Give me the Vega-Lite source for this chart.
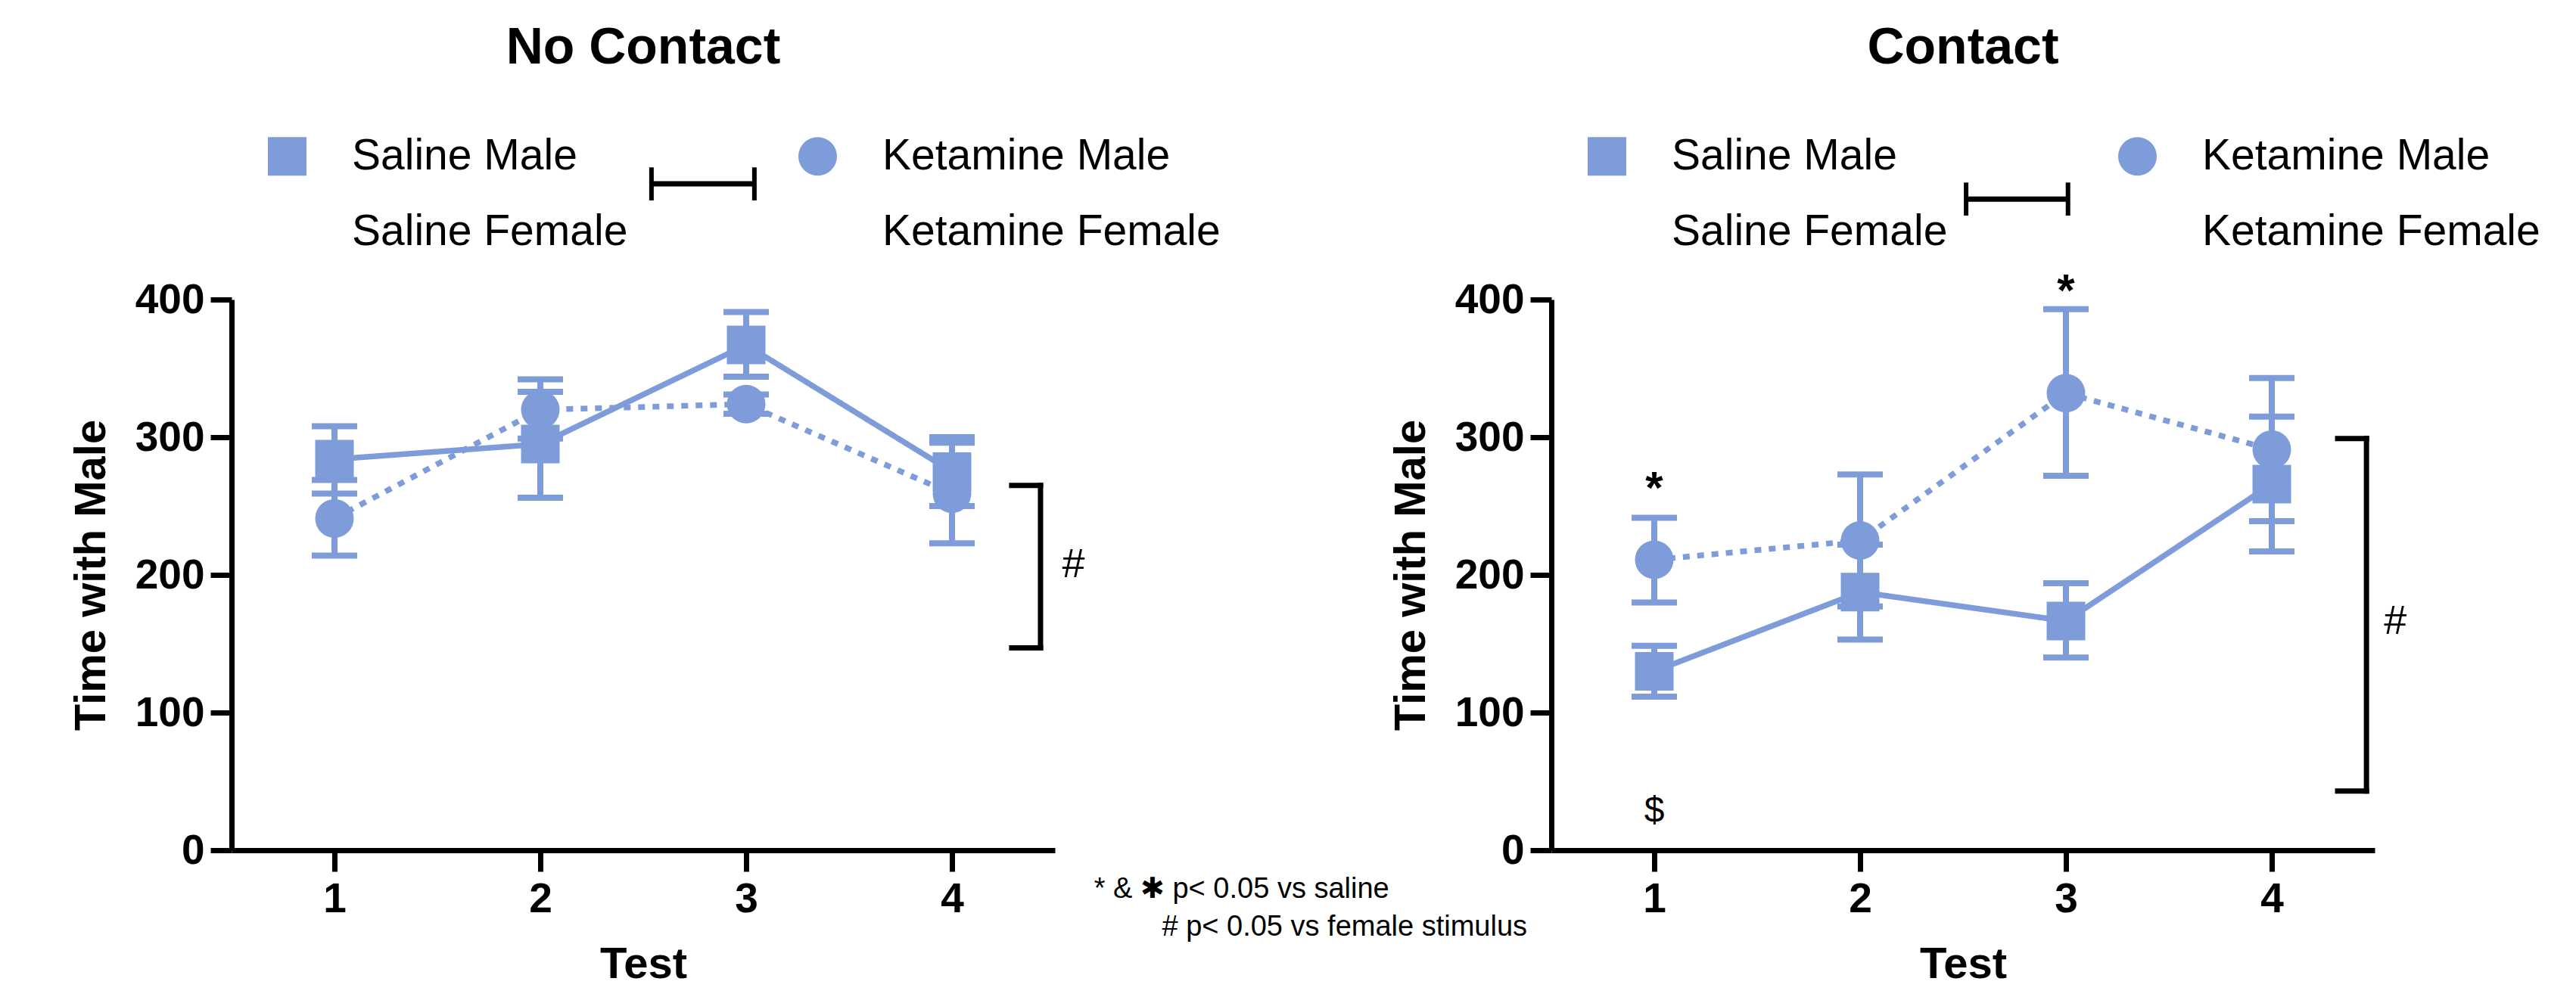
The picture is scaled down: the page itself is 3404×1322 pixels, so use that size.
{
  "$schema": "https://vega.github.io/schema/vega-lite/v6.json",
  "background": "white",
  "padding": {"left": 92, "top": 30, "right": 5, "bottom": 5},
  "config": {
    "view": {"stroke": null},
    "font": "Liberation Sans",
    "axis": {"domainColor": "black", "domainWidth": 7, "tickColor": "black", "tickWidth": 7, "tickSize": 28, "labelFont": "Liberation Sans", "labelFontSize": 55, "labelFontWeight": "bold", "labelColor": "black", "titleFont": "Liberation Sans", "titleFontSize": 58, "titleFontWeight": "bold", "titleColor": "black", "grid": false, "labelPadding": 8},
    "axisY": {"titlePadding": 28},
    "axisX": {"titlePadding": 30, "labelPadding": 10},
    "title": {"font": "Liberation Sans", "fontSize": 68, "fontWeight": "bold", "color": "black", "anchor": "middle", "frame": "group", "offset": 80}
  },
  "datasets": {
    "main": [
      {"panel": "No Contact", "group": "Saline Male", "test": 1, "mean": 284, "lo": 259, "hi": 308},
      {"panel": "No Contact", "group": "Saline Male", "test": 2, "mean": 295, "lo": 256, "hi": 333},
      {"panel": "No Contact", "group": "Saline Male", "test": 3, "mean": 367, "lo": 344, "hi": 391},
      {"panel": "No Contact", "group": "Saline Male", "test": 4, "mean": 275, "lo": 250, "hi": 300},
      {"panel": "No Contact", "group": "Ketamine Male", "test": 1, "mean": 241, "lo": 214, "hi": 269},
      {"panel": "No Contact", "group": "Ketamine Male", "test": 2, "mean": 320, "lo": 299, "hi": 342},
      {"panel": "No Contact", "group": "Ketamine Male", "test": 3, "mean": 324, "lo": 317, "hi": 331},
      {"panel": "No Contact", "group": "Ketamine Male", "test": 4, "mean": 259, "lo": 223, "hi": 296},
      {"panel": "Contact", "group": "Saline Male", "test": 1, "mean": 130, "lo": 111.5, "hi": 148.5},
      {"panel": "Contact", "group": "Saline Male", "test": 2, "mean": 187.5, "lo": 153, "hi": 222},
      {"panel": "Contact", "group": "Saline Male", "test": 3, "mean": 166.5, "lo": 140, "hi": 194},
      {"panel": "Contact", "group": "Saline Male", "test": 4, "mean": 266, "lo": 217, "hi": 315},
      {"panel": "Contact", "group": "Ketamine Male", "test": 1, "mean": 211, "lo": 180, "hi": 241.5},
      {"panel": "Contact", "group": "Ketamine Male", "test": 2, "mean": 225, "lo": 177, "hi": 273},
      {"panel": "Contact", "group": "Ketamine Male", "test": 3, "mean": 332, "lo": 272, "hi": 393},
      {"panel": "Contact", "group": "Ketamine Male", "test": 4, "mean": 291, "lo": 239, "hi": 343}
    ],
    "marks": [
      {"panel": "Contact", "test": 1, "value": 270, "label": "*"},
      {"panel": "Contact", "test": 3, "value": 413, "label": "*"}
    ],
    "dollar": [
      {"panel": "Contact", "test": 1, "value": 28, "label": "$"}
    ]
  },
  "spacing": 656,
  "bounds": "flush",
  "resolve": {"scale": {"shape": "independent", "strokeDash": "independent"}, "legend": {"shape": "independent"}},
  "hconcat": [
    {
      "width": 1088,
      "height": 728,
      "title": {"text": "No Contact"},
      "layer": [
        {
          "data": {"name": "main"},
          "transform": [{"filter": "datum.panel === 'No Contact'"}],
          "mark": {"type": "errorbar", "orient": "vertical", "ticks": {"opacity": 1}, "size": 60, "thickness": 8, "color": "#7E9CDA", "opacity": 1},
          "encoding": {
            "x": {"field": "test", "type": "quantitative", "title": "Test", "scale": {"domain": [0.5, 4.5], "nice": false, "zero": false}, "axis": {"values": [1, 2, 3, 4], "format": "d", "title": "Test"}},
            "y": {"field": "lo", "type": "quantitative", "title": "Time with Male", "scale": {"domain": [0, 400], "nice": false}, "axis": {"values": [0, 100, 200, 300, 400], "title": "Time with Male"}},
            "y2": {"field": "hi"}
          }
        },
        {
          "data": {"name": "main"},
          "transform": [{"filter": "datum.panel === 'No Contact'"}],
          "mark": {"type": "line", "strokeWidth": 7.5, "color": "#7E9CDA", "opacity": 1},
          "encoding": {
            "x": {"field": "test", "type": "quantitative", "title": "Test"},
            "y": {"field": "mean", "type": "quantitative", "title": "Time with Male"},
            "strokeDash": {"field": "group", "type": "nominal", "legend": null, "scale": {"domain": ["Saline Male", "Ketamine Male"], "range": [[1, 0], [9, 10]]}}
          }
        },
        {
          "data": {"name": "main"},
          "transform": [{"filter": "datum.panel === 'No Contact'"}],
          "mark": {"type": "point", "filled": true, "size": 2600, "color": "#7E9CDA", "opacity": 1, "strokeWidth": 0},
          "encoding": {
            "x": {"field": "test", "type": "quantitative", "title": "Test"},
            "y": {"field": "mean", "type": "quantitative", "title": "Time with Male"},
            "shape": {"field": "group", "type": "nominal",
              "scale": {"domain": ["Saline Male", "Saline Female", "Ketamine Male", "Ketamine Female"], "range": ["square", "M0,0", "circle", "M0,0"]},
              "legend": {"orient": "none", "legendX": 45, "legendY": -218, "columns": 2, "columnPadding": 222, "rowPadding": 42, "padding": 0, "title": null,
                "symbolSize": 2600, "symbolFillColor": "#7E9CDA", "symbolStrokeWidth": 0, "symbolOpacity": 1,
                "labelFont": "Liberation Sans", "labelFontSize": 57, "labelColor": "black", "labelLimit": 1000, "labelOffset": 57,
                "encode": {"symbols": {"shape": {"value": {"expr": "datum.value === 'Saline Male' ? 'M-1,-1H1V1H-1Z M-1.8,-0.16H-1V0.16H-1.8Z M1,-0.16H1.8V0.16H1Z' : (datum.value === 'Ketamine Male' ? 'M1,0A1,1,0,1,1,-1,0A1,1,0,1,1,1,0Z M-1.78,-0.17H-1.45V0.17H-1.78Z' : 'M0,0')"}}}}
              }
            }
          }
        },
        {
          "data": {"values": [{}]},
          "mark": {"type": "rule", "color": "black", "strokeWidth": 7, "strokeCap": "square"},
          "encoding": {"x": {"datum": 4.43}, "y": {"datum": 147}, "y2": {"datum": 265}}
        },
        {
          "data": {"values": [{}]},
          "mark": {"type": "rule", "color": "black", "strokeWidth": 7, "strokeCap": "square"},
          "encoding": {"x": {"datum": 4.29}, "x2": {"datum": 4.43}, "y": {"datum": 147}}
        },
        {
          "data": {"values": [{}]},
          "mark": {"type": "rule", "color": "black", "strokeWidth": 7, "strokeCap": "square"},
          "encoding": {"x": {"datum": 4.29}, "x2": {"datum": 4.43}, "y": {"datum": 265}}
        },
        {
          "data": {"values": [{}]},
          "mark": {"type": "text", "text": "#", "font": "Liberation Sans", "fontSize": 54, "align": "center", "baseline": "middle", "color": "black"},
          "encoding": {"x": {"datum": 4.59}, "y": {"datum": 207}}
        },
        {
          "data": {"values": [{}]},
          "mark": {"type": "rule", "color": "black", "strokeWidth": 7},
          "encoding": {"x": {"datum": 2.54}, "x2": {"datum": 3.04}, "y": {"datum": 484}}
        },
        {
          "data": {"values": [{}]},
          "mark": {"type": "rule", "color": "black", "strokeWidth": 6},
          "encoding": {"x": {"datum": 2.54}, "y": {"datum": 472}, "y2": {"datum": 496}}
        },
        {
          "data": {"values": [{}]},
          "mark": {"type": "rule", "color": "black", "strokeWidth": 6},
          "encoding": {"x": {"datum": 3.04}, "y": {"datum": 472}, "y2": {"datum": 496}}
        },
        {
          "data": {"values": [{}]},
          "mark": {"type": "text", "text": "* & ✱ p< 0.05 vs saline", "font": "Liberation Sans", "fontSize": 38, "align": "left", "baseline": "middle", "color": "black"},
          "encoding": {"x": {"datum": 4.69}, "y": {"datum": -28.5}}
        },
        {
          "data": {"values": [{}]},
          "mark": {"type": "text", "text": "# p< 0.05 vs female stimulus", "font": "Liberation Sans", "fontSize": 38, "align": "left", "baseline": "middle", "color": "black"},
          "encoding": {"x": {"datum": 5.02}, "y": {"datum": -56}}
        }
      ]
    },
    {
      "width": 1088,
      "height": 728,
      "title": {"text": "Contact"},
      "layer": [
        {
          "data": {"name": "main"},
          "transform": [{"filter": "datum.panel === 'Contact'"}],
          "mark": {"type": "errorbar", "orient": "vertical", "ticks": {"opacity": 1}, "size": 60, "thickness": 8, "color": "#7E9CDA", "opacity": 1},
          "encoding": {
            "x": {"field": "test", "type": "quantitative", "title": "Test", "scale": {"domain": [0.5, 4.5], "nice": false, "zero": false}, "axis": {"values": [1, 2, 3, 4], "format": "d", "title": "Test"}},
            "y": {"field": "lo", "type": "quantitative", "title": "Time with Male", "scale": {"domain": [0, 400], "nice": false}, "axis": {"values": [0, 100, 200, 300, 400], "title": "Time with Male"}},
            "y2": {"field": "hi"}
          }
        },
        {
          "data": {"name": "main"},
          "transform": [{"filter": "datum.panel === 'Contact'"}],
          "mark": {"type": "line", "strokeWidth": 7.5, "color": "#7E9CDA", "opacity": 1},
          "encoding": {
            "x": {"field": "test", "type": "quantitative", "title": "Test"},
            "y": {"field": "mean", "type": "quantitative", "title": "Time with Male"},
            "strokeDash": {"field": "group", "type": "nominal", "legend": null, "scale": {"domain": ["Saline Male", "Ketamine Male"], "range": [[1, 0], [9, 10]]}}
          }
        },
        {
          "data": {"name": "main"},
          "transform": [{"filter": "datum.panel === 'Contact'"}],
          "mark": {"type": "point", "filled": true, "size": 2600, "color": "#7E9CDA", "opacity": 1, "strokeWidth": 0},
          "encoding": {
            "x": {"field": "test", "type": "quantitative", "title": "Test"},
            "y": {"field": "mean", "type": "quantitative", "title": "Time with Male"},
            "shape": {"field": "group", "type": "nominal",
              "scale": {"domain": ["Saline Male", "Saline Female", "Ketamine Male", "Ketamine Female"], "range": ["square", "M0,0", "circle", "M0,0"]},
              "legend": {"orient": "none", "legendX": 45, "legendY": -218, "columns": 2, "columnPadding": 222, "rowPadding": 42, "padding": 0, "title": null,
                "symbolSize": 2600, "symbolFillColor": "#7E9CDA", "symbolStrokeWidth": 0, "symbolOpacity": 1,
                "labelFont": "Liberation Sans", "labelFontSize": 57, "labelColor": "black", "labelLimit": 1000, "labelOffset": 57,
                "encode": {"symbols": {"shape": {"value": {"expr": "datum.value === 'Saline Male' ? 'M-1,-1H1V1H-1Z M-1.8,-0.16H-1V0.16H-1.8Z M1,-0.16H1.8V0.16H1Z' : (datum.value === 'Ketamine Male' ? 'M1,0A1,1,0,1,1,-1,0A1,1,0,1,1,1,0Z M-1.78,-0.17H-1.45V0.17H-1.78Z' : 'M0,0')"}}}}
              }
            }
          }
        },
        {
          "data": {"name": "marks"},
          "mark": {"type": "text", "font": "Liberation Sans", "fontSize": 60, "fontWeight": "bold", "align": "center", "baseline": "middle", "dy": 14, "color": "black"},
          "encoding": {"x": {"field": "test", "type": "quantitative", "title": "Test"}, "y": {"field": "value", "type": "quantitative", "title": "Time with Male"}, "text": {"field": "label"}}
        },
        {
          "data": {"name": "dollar"},
          "mark": {"type": "text", "font": "Liberation Sans", "fontSize": 48, "align": "center", "baseline": "middle", "color": "black"},
          "encoding": {"x": {"field": "test", "type": "quantitative", "title": "Test"}, "y": {"field": "value", "type": "quantitative", "title": "Time with Male"}, "text": {"field": "label"}}
        },
        {
          "data": {"values": [{}]},
          "mark": {"type": "rule", "color": "black", "strokeWidth": 7, "strokeCap": "square"},
          "encoding": {"x": {"datum": 4.46}, "y": {"datum": 43}, "y2": {"datum": 299}}
        },
        {
          "data": {"values": [{}]},
          "mark": {"type": "rule", "color": "black", "strokeWidth": 7, "strokeCap": "square"},
          "encoding": {"x": {"datum": 4.32}, "x2": {"datum": 4.46}, "y": {"datum": 43}}
        },
        {
          "data": {"values": [{}]},
          "mark": {"type": "rule", "color": "black", "strokeWidth": 7, "strokeCap": "square"},
          "encoding": {"x": {"datum": 4.32}, "x2": {"datum": 4.46}, "y": {"datum": 299}}
        },
        {
          "data": {"values": [{}]},
          "mark": {"type": "text", "text": "#", "font": "Liberation Sans", "fontSize": 54, "align": "center", "baseline": "middle", "color": "black"},
          "encoding": {"x": {"datum": 4.6}, "y": {"datum": 166}}
        },
        {
          "data": {"values": [{}]},
          "mark": {"type": "rule", "color": "black", "strokeWidth": 7},
          "encoding": {"x": {"datum": 2.515}, "x2": {"datum": 3.01}, "y": {"datum": 473}}
        },
        {
          "data": {"values": [{}]},
          "mark": {"type": "rule", "color": "black", "strokeWidth": 6},
          "encoding": {"x": {"datum": 2.515}, "y": {"datum": 461}, "y2": {"datum": 485}}
        },
        {
          "data": {"values": [{}]},
          "mark": {"type": "rule", "color": "black", "strokeWidth": 6},
          "encoding": {"x": {"datum": 3.01}, "y": {"datum": 461}, "y2": {"datum": 485}}
        }
      ]
    }
  ]
}
